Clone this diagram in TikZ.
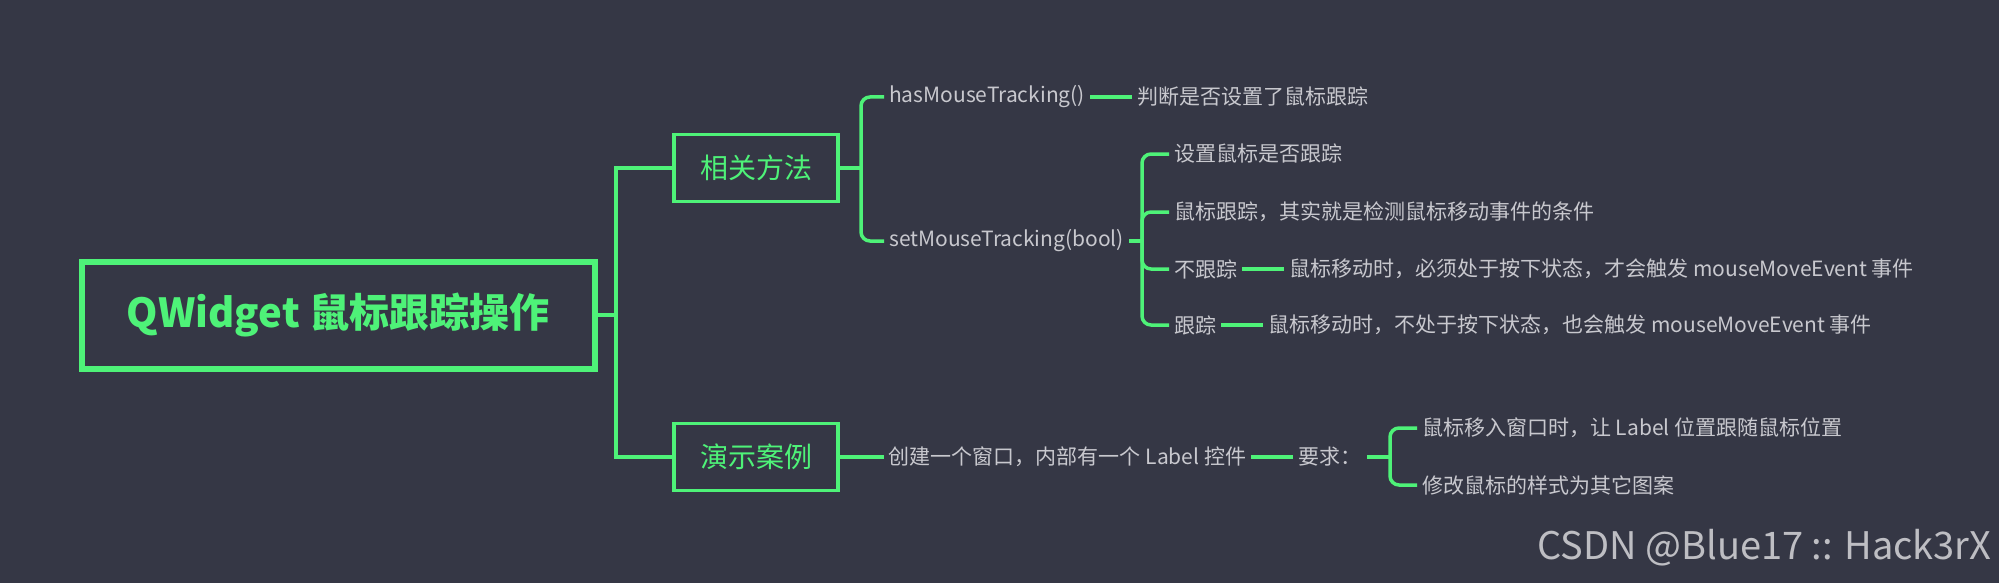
\documentclass[tikz,border=0pt]{standalone}
\usepackage{fontspec}
\setmainfont{Noto Sans CJK SC}
\usepackage{tikz}
\usetikzlibrary{positioning}
\definecolor{mmbg}{RGB}{53,55,69}
\definecolor{mmgreen}{RGB}{78,242,120}
\definecolor{mmgray}{RGB}{200,200,206}
\definecolor{mmmark}{RGB}{190,190,195}
\tikzstyle{rootbox} = [draw=mmgreen,line width=6pt,text=mmgreen,font=\fontsize{40}{48}\selectfont\bfseries,minimum width=513pt,minimum height=107pt]
\tikzstyle{topicbox} = [draw=mmgreen,line width=3.5pt,text=mmgreen,font=\fontsize{28}{34}\selectfont,minimum width=164pt,minimum height=67pt]
\tikzstyle{leaf} = [anchor=west,text=mmgray,font=\fontsize{21}{25}\selectfont,inner xsep=5pt,inner ysep=2pt]
\tikzstyle{link} = [mmgreen,line width=3.5pt]
\tikzstyle{branch} = [link,rounded corners=9pt]

\begin{document}
\begin{tikzpicture}[x=1pt,y=-1pt]
\fill[mmbg] (0,0) rectangle (1999,583);
\useasboundingbox (0,0) rectangle (1999,583);
% central topic
\node[rootbox] (root) at (338,315) {QWidget 鼠标跟踪操作};
\node[topicbox] (meth) at (756,168) {相关方法};
\node[topicbox] (demo) at (756,457) {演示案例};
\coordinate (trunk) at (616,315);
\draw[link] (root.east) -- (trunk);
\draw[link] (trunk) |- (meth.west);
\draw[link] (trunk) |- (demo.west);
% methods
\node[leaf] (has) at (884,97) {hasMouseTracking()};
\node[leaf,right=42pt of has] (hasd) {判断是否设置了鼠标跟踪};
\node[leaf] (set) at (884,241) {setMouseTracking(bool)};
\node[leaf] (s1) at (1169,154) {设置鼠标是否跟踪};
\node[leaf] (s2) at (1169,212) {鼠标跟踪，其实就是检测鼠标移动事件的条件};
\node[leaf] (s3) at (1169,269) {不跟踪};
\node[leaf,right=42pt of s3] (s3d) {鼠标移动时，必须处于按下状态，才会触发 mouseMoveEvent 事件};
\node[leaf] (s4) at (1169,325) {跟踪};
\node[leaf,right=42pt of s4] (s4d) {鼠标移动时，不处于按下状态，也会触发 mouseMoveEvent 事件};
\coordinate (methv) at (861,168);
\coordinate (setv) at (1142,241);
\draw[link] (meth.east) -- (methv);
\foreach \c in {has,set} \draw[branch] (methv) |- (\c.west);
\draw[link] (has.east) -- (hasd.west);
\draw[link] (set.east) -- (setv);
\foreach \c in {s1,s2,s3,s4} \draw[branch] (setv) |- (\c.west);
\draw[link] (s3.east) -- (s3d.west);
\draw[link] (s4.east) -- (s4d.west);
% demo
\node[leaf,right=44pt of demo] (win) {创建一个窗口，内部有一个 Label 控件};
\node[leaf,right=42pt of win] (req) {要求：};
\node[leaf] (r1) at (1417,428) {鼠标移入窗口时，让 Label 位置跟随鼠标位置};
\node[leaf] (r2) at (1417,485) {修改鼠标的样式为其它图案};
\coordinate (reqv) at (1390,457);
\draw[link] (demo.east) -- (win.west);
\draw[link] (win.east) -- (req.west);
\draw[link] (req.east) -- (reqv);
\foreach \c in {r1,r2} \draw[branch] (reqv) |- (\c.west);
% watermark
\node[anchor=east,text=mmmark,font=\fontsize{38}{42}\selectfont] (mark) at (1995,548) {CSDN @Blue17 :: Hack3rX};
\end{tikzpicture}
\end{document}
